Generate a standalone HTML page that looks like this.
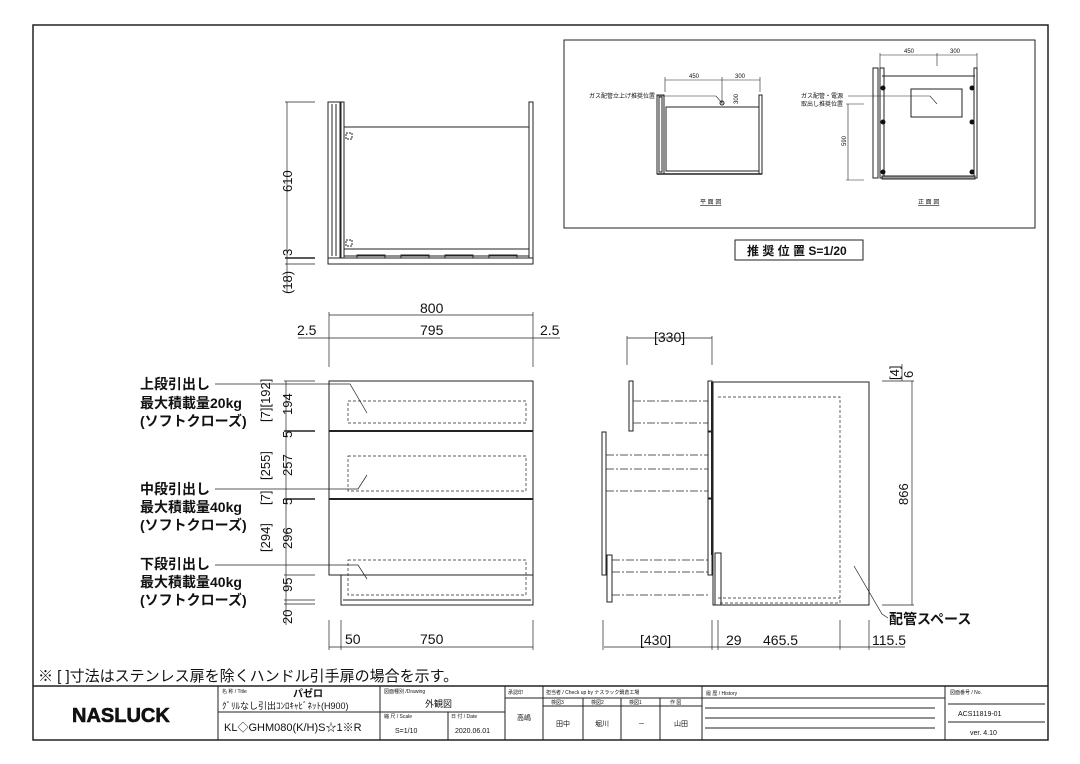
<!DOCTYPE html>
<html><head><meta charset="utf-8"><style>
body{margin:0;background:#fff}
svg{display:block}
text{font-family:"Liberation Sans","Noto Sans CJK JP",sans-serif;fill:#111}
</style></head><body>
<svg width="1080" height="764" viewBox="0 0 1080 764" xmlns="http://www.w3.org/2000/svg">
<g fill="none" stroke="#222" stroke-width="1">
<rect x="33" y="25" width="1015" height="715" stroke-width="1.5"/>
<line x1="33" y1="686" x2="1048" y2="686" stroke-width="1.5"/>
<line x1="218" y1="686" x2="218" y2="740"/>
<line x1="380" y1="686" x2="380" y2="740"/>
<line x1="505" y1="686" x2="505" y2="740"/>
<line x1="543" y1="686" x2="543" y2="740"/>
<line x1="702" y1="686" x2="702" y2="740"/>
<line x1="945" y1="686" x2="945" y2="740"/>
<line x1="218" y1="712" x2="380" y2="712"/>
<line x1="380" y1="712" x2="505" y2="712"/>
<line x1="448" y1="712" x2="448" y2="740"/>
<line x1="505" y1="698" x2="543" y2="698"/>
<line x1="543" y1="698" x2="702" y2="698"/>
<line x1="543" y1="706" x2="702" y2="706"/>
<line x1="583" y1="698" x2="583" y2="740"/>
<line x1="621" y1="698" x2="621" y2="740"/>
<line x1="660" y1="698" x2="660" y2="740"/>
<line x1="702" y1="698" x2="945" y2="698"/>
<line x1="705" y1="708" x2="935" y2="708"/>
<line x1="705" y1="718" x2="935" y2="718"/>
<line x1="705" y1="728" x2="935" y2="728"/>
<line x1="948" y1="704" x2="1045" y2="704"/>
<line x1="948" y1="722" x2="1045" y2="722"/>

<rect x="564" y="40" width="471" height="188"/>
<rect x="735" y="240" width="128" height="20"/>
<rect x="657" y="95" width="7" height="79"/>
<rect x="659" y="97" width="3" height="75"/>
<rect x="759" y="95" width="3" height="79"/>
<rect x="666" y="107" width="93" height="64"/>
<line x1="657" y1="174" x2="762" y2="174" stroke-width="1.5"/>
<line x1="665" y1="80" x2="760" y2="80" stroke-width="0.6"/>
<line x1="722" y1="77" x2="722" y2="104" stroke-width="0.6"/>
<line x1="665" y1="77" x2="665" y2="92" stroke-width="0.6"/>
<line x1="760" y1="77" x2="760" y2="92" stroke-width="0.6"/>
<polyline points="657,96 716,96 722,103" stroke-width="0.6"/>
<circle cx="722" cy="103" r="2"/>
<rect x="873" y="68" width="5" height="110"/>
<rect x="880" y="68" width="4" height="110"/>
<rect x="974" y="68" width="3" height="110"/>
<line x1="882" y1="76" x2="975" y2="76"/>
<rect x="911" y="89" width="51" height="28"/>
<rect x="882" y="176" width="93" height="3" fill="#999"/>
<line x1="880" y1="55" x2="977" y2="55" stroke-width="0.6"/>
<line x1="937" y1="53" x2="937" y2="66" stroke-width="0.6"/>
<line x1="880" y1="53" x2="880" y2="68" stroke-width="0.6"/>
<line x1="977" y1="53" x2="977" y2="68" stroke-width="0.6"/>
<line x1="848" y1="104" x2="848" y2="180" stroke-width="0.6"/>
<line x1="846" y1="104" x2="864" y2="104" stroke-width="0.6"/>
<line x1="846" y1="180" x2="864" y2="180" stroke-width="0.6"/>
<polyline points="848,96 930,96 937,104" stroke-width="0.6"/>
</g>
<g fill="#111">
<circle cx="883" cy="88" r="2.5"/><circle cx="972" cy="88" r="2.5"/>
<circle cx="883" cy="122" r="2.5"/><circle cx="972" cy="122" r="2.5"/>
<circle cx="883" cy="172" r="2.5"/><circle cx="972" cy="172" r="2.5"/>
</g>
<g font-size="6">
<text x="689" y="78">450</text><text x="735" y="78">300</text>
<text x="589" y="98">ガス配管立上げ推奨位置</text>
<text x="700" y="204" text-decoration="underline">平 面 図</text>
<text x="904" y="53">450</text><text x="950" y="53">300</text>
<text x="801" y="98">ガス配管・電源</text>
<text x="801" y="106">取出し推奨位置</text>
<text x="918" y="204" text-decoration="underline">正 面 図</text>
<text transform="translate(846,146) rotate(-90)">590</text>
<text transform="translate(738,104) rotate(-90)">300</text>
</g>
<text x="747" y="255" font-size="12" font-weight="bold">推 奨 位 置 S=1/20</text>

<g fill="none" stroke="#222" stroke-width="1">
<rect x="328" y="102" width="12" height="156"/>
<line x1="332" y1="104" x2="332" y2="256"/><line x1="336" y1="104" x2="336" y2="256"/>
<rect x="341" y="102" width="3" height="156"/>
<rect x="529" y="102" width="4" height="156"/>
<line x1="344" y1="127" x2="529" y2="127"/>
<line x1="344" y1="249" x2="529" y2="249"/>
<rect x="328" y="258" width="205" height="6"/>
<line x1="344" y1="256" x2="529" y2="256"/>
<rect x="357" y="255" width="28" height="3"/><rect x="401" y="255" width="28" height="3"/><rect x="445" y="255" width="28" height="3"/><rect x="489" y="255" width="28" height="3"/>
<rect x="346" y="133" width="6" height="6" stroke-dasharray="2,1"/>
<rect x="346" y="240" width="6" height="6" stroke-dasharray="2,1"/>
<line x1="287" y1="102" x2="287" y2="292" stroke-width="0.7"/>
<line x1="285" y1="102" x2="315" y2="102" stroke-width="0.7"/>
<line x1="285" y1="258" x2="315" y2="258" stroke-width="1.5"/>
<line x1="285" y1="264" x2="315" y2="264" stroke-width="0.7"/>
</g>
<g font-size="13">
<text transform="translate(292,192) rotate(-90)">610</text>
<text transform="translate(292,256) rotate(-90)">3</text>
<text transform="translate(292,294) rotate(-90)">(18)</text>
</g>

<g fill="none" stroke="#222" stroke-width="1">
<rect x="329" y="381" width="204" height="194"/>
<line x1="329" y1="431" x2="533" y2="431" stroke-width="2"/>
<line x1="329" y1="499" x2="533" y2="499" stroke-width="2"/>
<rect x="341" y="575" width="192" height="30"/>
<line x1="343" y1="600" x2="531" y2="600"/>
<g stroke-dasharray="3,2" stroke-width="0.7">
<rect x="348" y="401" width="178" height="22"/>
<rect x="348" y="456" width="178" height="35"/>
<rect x="348" y="560" width="178" height="35"/>
</g>
<g stroke-width="0.7">
<line x1="329" y1="315" x2="533" y2="315"/>
<line x1="298" y1="338" x2="560" y2="338"/>
<line x1="329" y1="312" x2="329" y2="367"/><line x1="533" y1="312" x2="533" y2="367"/>
<line x1="286" y1="381" x2="286" y2="625"/>
<line x1="284" y1="381" x2="315" y2="381"/>
<line x1="284" y1="431" x2="315" y2="431" stroke-width="1.5"/>
<line x1="284" y1="499" x2="315" y2="499" stroke-width="1.5"/>
<line x1="284" y1="575" x2="315" y2="575"/>
<line x1="284" y1="600" x2="315" y2="600"/><line x1="284" y1="604" x2="315" y2="604"/>
<line x1="329" y1="620" x2="329" y2="650"/><line x1="341" y1="620" x2="341" y2="650"/><line x1="533" y1="620" x2="533" y2="650"/>
<line x1="329" y1="647" x2="533" y2="647"/>
<polyline points="215,384 350,384 367,413"/>
<polyline points="215,489 358,489 367,475"/>
<polyline points="215,565 358,565 367,579"/>
</g>
</g>
<g font-size="14">
<text x="420" y="313">800</text>
<text x="297" y="335">2.5</text>
<text x="420" y="335">795</text>
<text x="540" y="335">2.5</text>
<text x="140" y="389" font-weight="bold">上段引出し</text><text x="140" y="408" font-weight="bold">最大積載量20kg</text><text x="140" y="426" font-weight="bold">(ソフトクローズ)</text>
<text x="140" y="494" font-weight="bold">中段引出し</text><text x="140" y="512" font-weight="bold">最大積載量40kg</text><text x="140" y="530" font-weight="bold">(ソフトクローズ)</text>
<text x="140" y="569" font-weight="bold">下段引出し</text><text x="140" y="587" font-weight="bold">最大積載量40kg</text><text x="140" y="605" font-weight="bold">(ソフトクローズ)</text>
<text x="345" y="644">50</text><text x="420" y="644">750</text>
</g>
<g font-size="13">
<text transform="translate(270,422) rotate(-90)">[7][192]</text>
<text transform="translate(292,415) rotate(-90)">194</text>
<text transform="translate(292,438) rotate(-90)">5</text>
<text transform="translate(270,480) rotate(-90)">[255]</text>
<text transform="translate(292,476) rotate(-90)">257</text>
<text transform="translate(270,505) rotate(-90)">[7]</text>
<text transform="translate(292,505) rotate(-90)">5</text>
<text transform="translate(270,552) rotate(-90)">[294]</text>
<text transform="translate(292,549) rotate(-90)">296</text>
<text transform="translate(292,592) rotate(-90)">95</text>
<text transform="translate(292,624) rotate(-90)">20</text>
</g>

<g fill="none" stroke="#222" stroke-width="1">
<rect x="713" y="382" width="156" height="223"/>
<line x1="712" y1="382" x2="712" y2="555" stroke-width="2"/>
<rect x="708" y="381" width="4" height="50"/>
<rect x="708" y="432" width="4" height="66"/>
<rect x="708" y="499" width="4" height="76"/>
<rect x="629" y="381" width="4" height="50"/>
<rect x="602" y="432" width="4" height="143"/>
<rect x="607" y="555" width="5" height="47"/>
<rect x="715" y="553" width="6" height="52"/>
<path d="M718,397 H840 V603 H718" stroke-dasharray="3,2" stroke-width="0.7"/>
<line x1="718" y1="598" x2="840" y2="598" stroke-dasharray="3,2" stroke-width="0.7"/>
<g stroke-dasharray="8,2,2,2" stroke-width="0.7">
<line x1="633" y1="401" x2="708" y2="401"/><line x1="633" y1="423" x2="708" y2="423"/>
<line x1="606" y1="455" x2="708" y2="455"/><line x1="606" y1="469" x2="708" y2="469"/><line x1="606" y1="491" x2="708" y2="491"/>
<line x1="612" y1="560" x2="708" y2="560"/><line x1="612" y1="572" x2="708" y2="572"/><line x1="612" y1="595" x2="708" y2="595"/>
</g>
<g stroke-width="0.7">
<line x1="627" y1="338" x2="712" y2="338"/>
<line x1="627" y1="336" x2="627" y2="365"/><line x1="712" y1="336" x2="712" y2="365"/>
<line x1="604" y1="647" x2="905" y2="647"/>
<line x1="603" y1="620" x2="603" y2="650"/><line x1="712" y1="620" x2="712" y2="650"/><line x1="718" y1="620" x2="718" y2="650"/><line x1="840" y1="620" x2="840" y2="650"/><line x1="869" y1="620" x2="869" y2="650"/>
<line x1="912" y1="381" x2="912" y2="605"/>
<line x1="882" y1="381" x2="914" y2="381"/><line x1="882" y1="605" x2="914" y2="605"/>
<line x1="902" y1="364" x2="902" y2="381"/>
<polyline points="854,566 882,614 888,618"/>
</g>
</g>
<g font-size="14">
<text x="640" y="645">[430]</text>
<text x="726" y="645">29</text><text x="763" y="645">465.5</text><text x="872" y="645">115.5</text>
<text x="889" y="624" font-weight="bold">配管スペース</text>
<text x="654" y="342">[330]</text>
</g>
<g font-size="13">
<text transform="translate(908,505) rotate(-90)">866</text>
<text transform="translate(899,380) rotate(-90)">[4]</text>
<text transform="translate(913,378) rotate(-90)">6</text>
</g>

<text x="38" y="681" font-size="15">※ [ ]寸法はステンレス扉を除くハンドル引手扉の場合を示す。</text>
<text x="72" y="722" font-size="20" font-weight="bold" stroke="#111" stroke-width="0.6" fill="#fff">NASLUCK</text>
<g font-size="5"><text x="222" y="693">名 称 / Title</text><text x="384" y="693">図面種別 /Drawing</text><text x="384" y="718">縮 尺 / Scale</text><text x="451" y="718">日 付 / Date</text><text x="508" y="694">承認印</text><text x="546" y="694">担当者 / Check up by ナスラック鍋倉工場</text><text x="706" y="695">履 歴 / History</text><text x="950" y="694">図面番号 / No.</text><text x="551" y="704">検図3</text><text x="591" y="704">検図2</text><text x="629" y="704">検図1</text><text x="670" y="704">作 図</text></g>
<text x="293" y="697" font-size="10" font-weight="bold">パゼロ</text>
<text x="222" y="709" font-size="9">ｸﾞﾘﾙなし引出ｺﾝﾛｷｬﾋﾞﾈｯﾄ(H900)</text>
<text x="224" y="731" font-size="11">KL◇GHM080(K/H)S☆1※R</text>
<text x="425" y="707" font-size="9">外観図</text>
<text x="395" y="733" font-size="7">S=1/10</text>
<text x="455" y="733" font-size="7">2020.06.01</text>
<text x="517" y="720" font-size="7">高嶋</text>
<text x="556" y="726" font-size="7">田中</text>
<text x="595" y="726" font-size="7">堀川</text>
<text x="638" y="726" font-size="7">－</text>
<text x="674" y="726" font-size="7">山田</text>
<text x="958" y="716" font-size="7">ACS11819-01</text>
<text x="970" y="735" font-size="7">ver. 4.10</text>
</svg>
</body></html>
